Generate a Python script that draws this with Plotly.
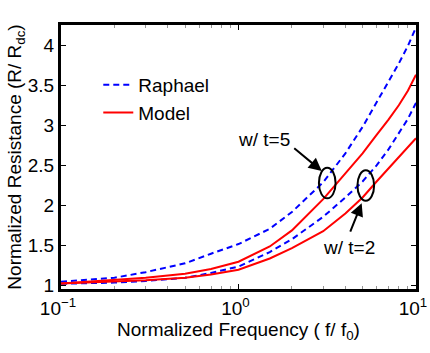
import plotly.graph_objects as go

# Normalized frequency samples (f/f0)
freq = [0.1, 0.2, 0.3, 0.5, 0.7, 1, 1.5, 2, 3, 4, 5, 6, 7, 8, 9, 10]

# Raphael (dashed blue)
raphael_t5 = [1.05, 1.10, 1.17, 1.28, 1.40, 1.52, 1.71, 1.92, 2.29, 2.65, 2.98, 3.28, 3.54, 3.77, 3.99, 4.22]
raphael_t2 = [1.025, 1.04, 1.06, 1.10, 1.16, 1.24, 1.42, 1.58, 1.86, 2.10, 2.30, 2.50, 2.70, 2.90, 3.08, 3.28]

# Model (solid red)
model_t5 = [1.03, 1.07, 1.10, 1.15, 1.21, 1.30, 1.49, 1.69, 2.08, 2.40, 2.65, 2.88, 3.07, 3.25, 3.43, 3.63]
model_t2 = [1.03, 1.05, 1.07, 1.10, 1.14, 1.20, 1.34, 1.47, 1.68, 1.90, 2.10, 2.30, 2.46, 2.60, 2.72, 2.84]

x_tickvals = [0.1, 1, 10]
x_ticktext = ["10<sup>\u22121</sup>", "10<sup>0</sup>", "10<sup>1</sup>"]
x_minor = [0.2, 0.3, 0.4, 0.5, 0.6, 0.7, 0.8, 0.9, 2, 3, 4, 5, 6, 7, 8, 9]
y_tickvals = [1, 1.5, 2, 2.5, 3, 3.5, 4]
y_ticktext = ["1", "1.5", "2", "2.5", "3", "3.5", "4"]

FONT = "Liberation Sans, Arial, sans-serif"
BLUE = "rgb(0,0,255)"
RED = "rgb(255,0,0)"
FS = 19

fig = go.Figure()
fig.add_trace(go.Scatter(x=freq, y=raphael_t5, mode="lines", name="Raphael",
                         line=dict(color=BLUE, width=2, dash="6px,4px"), legendgroup="r"))
fig.add_trace(go.Scatter(x=freq, y=raphael_t2, mode="lines", name="Raphael", showlegend=False,
                         line=dict(color=BLUE, width=2, dash="6px,4px"), legendgroup="r"))
fig.add_trace(go.Scatter(x=freq, y=model_t5, mode="lines", name="Model",
                         line=dict(color=RED, width=2), legendgroup="m"))
fig.add_trace(go.Scatter(x=freq, y=model_t2, mode="lines", name="Model", showlegend=False,
                         line=dict(color=RED, width=2), legendgroup="m"))

# ellipses marking the curve pairs
fig.add_shape(type="circle", xref="x", yref="y", x0=10**0.453, x1=10**0.547, y0=2.09, y1=2.47,
              line=dict(color="black", width=2))
fig.add_shape(type="circle", xref="x", yref="y", x0=10**0.670, x1=10**0.764, y0=2.06, y1=2.44,
              line=dict(color="black", width=2))

# arrows
fig.add_annotation(x=0.469, y=2.43, xref="x", yref="y", ax=-29, ay=-24, axref="pixel", ayref="pixel",
                   text="", showarrow=True, arrowhead=2, arrowsize=1.3, arrowwidth=2, arrowcolor="black")
fig.add_annotation(x=0.694, y=2.03, xref="x", yref="y", ax=-12, ay=30, axref="pixel", ayref="pixel",
                   text="", showarrow=True, arrowhead=2, arrowsize=1.3, arrowwidth=2, arrowcolor="black")
fig.add_annotation(x=0.146, y=2.825, xref="x", yref="y", text="w/ t=5", showarrow=False,
                   font=dict(family=FONT, size=FS, color="black"))
fig.add_annotation(x=0.623, y=1.475, xref="x", yref="y", text="w/ t=2", showarrow=False,
                   font=dict(family=FONT, size=FS, color="black"))

fig.update_xaxes(type="log", range=[-1, 1], tickmode="array", tickvals=x_tickvals, ticktext=x_ticktext,
                 ticks="inside", ticklen=5, tickwidth=1, tickcolor="black",
                 minor=dict(tickmode="array", tickvals=x_minor, ticks="inside", ticklen=3,
                            tickcolor="rgb(150,150,150)", tickwidth=1),
                 showline=True, linecolor="black", linewidth=3, mirror="ticks",
                 showgrid=False, zeroline=False, automargin=False,
                 ticklabeloverflow="allow", ticklabelshift=-3,
                 tickfont=dict(family=FONT, size=FS, color="black"),
                 title=dict(text="Normalized Frequency ( f/ f<sub>0</sub>)",
                            font=dict(family=FONT, size=FS, color="black"), standoff=0))
fig.update_yaxes(range=[0.96, 4.25], tickmode="array", tickvals=y_tickvals, ticktext=y_ticktext,
                 ticks="inside", ticklen=5, tickwidth=1, tickcolor="black",
                 showline=True, linecolor="black", linewidth=3, mirror="ticks",
                 showgrid=False, zeroline=False, automargin=False,
                 tickfont=dict(family=FONT, size=FS, color="black"),
                 title=dict(text="Normalized Resistance (R/ R<sub>dc</sub>)",
                            font=dict(family=FONT, size=FS, color="black"), standoff=2))

fig.update_layout(width=430, height=353, margin=dict(l=61, r=14, t=25, b=64),
                  paper_bgcolor="white", plot_bgcolor="white",
                  legend=dict(x=0.105, y=0.845, xanchor="left", yanchor="top", bgcolor="rgba(0,0,0,0)",
                              font=dict(family=FONT, size=FS, color="black"), tracegroupgap=0,
                              itemwidth=30),
                  showlegend=True)

fig.write_html("out.html")
